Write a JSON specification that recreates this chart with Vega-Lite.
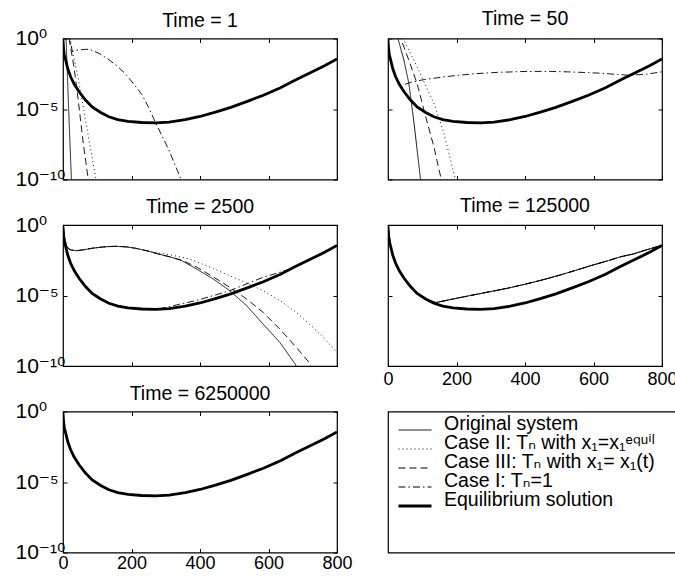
{
  "$schema": "https://vega.github.io/schema/vega-lite/v6.json",
  "padding": {"left": 14, "top": 7.5, "right": 0, "bottom": 0},
  "background": "white",
  "datasets": {
    "d": [
      {"p":0,"s":"equil","x":0,"y":0.794},{"p":0,"s":"equil","x":2,"y":0.158},{"p":0,"s":"equil","x":4,"y":0.0708},{"p":0,"s":"equil","x":8,"y":0.0282},{"p":0,"s":"equil","x":14,"y":0.00708},{"p":0,"s":"equil","x":22,"y":0.002},{"p":0,"s":"equil","x":33,"y":0.000562},{"p":0,"s":"equil","x":47,"y":0.000166},{"p":0,"s":"equil","x":65,"y":4.47e-5},{"p":0,"s":"equil","x":85,"y":1.41e-5},{"p":0,"s":"equil","x":110,"y":5.62e-6},{"p":0,"s":"equil","x":134,"y":2.82e-6},{"p":0,"s":"equil","x":160,"y":1.78e-6},{"p":0,"s":"equil","x":190,"y":1.32e-6},{"p":0,"s":"equil","x":230,"y":1.1e-6},{"p":0,"s":"equil","x":270,"y":1.05e-6},{"p":0,"s":"equil","x":310,"y":1.17e-6},{"p":0,"s":"equil","x":357,"y":1.74e-6},{"p":0,"s":"equil","x":400,"y":2.95e-6},{"p":0,"s":"equil","x":445,"y":6.03e-6},{"p":0,"s":"equil","x":490,"y":1.32e-5},{"p":0,"s":"equil","x":540,"y":3.63e-5},{"p":0,"s":"equil","x":585,"y":9.55e-5},{"p":0,"s":"equil","x":635,"y":0.000316},{"p":0,"s":"equil","x":680,"y":0.00117},{"p":0,"s":"equil","x":725,"y":0.00398},{"p":0,"s":"equil","x":765,"y":0.012},{"p":0,"s":"equil","x":800,"y":0.0355},

      {"p":1,"s":"orig","x":6,"y":3.16},{"p":1,"s":"orig","x":9,"y":1},{"p":1,"s":"orig","x":16.5,"y":1e-5},{"p":1,"s":"orig","x":24.5,"y":1e-10},{"p":1,"s":"orig","x":25.5,"y":4e-11},
      {"p":1,"s":"case3","x":13,"y":6.3},{"p":1,"s":"case3","x":17.5,"y":1},{"p":1,"s":"case3","x":32,"y":0.01},{"p":1,"s":"case3","x":44.5,"y":4.27e-5},{"p":1,"s":"case3","x":58,"y":6.3e-8},{"p":1,"s":"case3","x":73.7,"y":1e-10},{"p":1,"s":"case3","x":76,"y":4e-11},
      {"p":1,"s":"case2","x":15,"y":3.16},{"p":1,"s":"case2","x":20,"y":1},{"p":1,"s":"case2","x":27,"y":0.148},{"p":1,"s":"case2","x":41.6,"y":0.00331},{"p":1,"s":"case2","x":61,"y":8.32e-6},{"p":1,"s":"case2","x":77.7,"y":3.55e-8},{"p":1,"s":"case2","x":95,"y":1.58e-10},{"p":1,"s":"case2","x":99,"y":4e-11},
      {"p":1,"s":"case1","x":16,"y":3.16},{"p":1,"s":"case1","x":20,"y":1},{"p":1,"s":"case1","x":27,"y":0.126},{"p":1,"s":"case1","x":35,"y":0.138},{"p":1,"s":"case1","x":45,"y":0.158},{"p":1,"s":"case1","x":76,"y":0.174},{"p":1,"s":"case1","x":105,"y":0.089},{"p":1,"s":"case1","x":134,"y":0.0316},{"p":1,"s":"case1","x":160,"y":0.01},{"p":1,"s":"case1","x":182,"y":0.00316},{"p":1,"s":"case1","x":209,"y":0.000501},{"p":1,"s":"case1","x":231,"y":0.0001},{"p":1,"s":"case1","x":250,"y":1.26e-5},{"p":1,"s":"case1","x":270,"y":1.12e-6},{"p":1,"s":"case1","x":290,"y":1.12e-7},{"p":1,"s":"case1","x":309,"y":1.26e-8},{"p":1,"s":"case1","x":326,"y":1.26e-9},{"p":1,"s":"case1","x":345,"y":1e-10},{"p":1,"s":"case1","x":350,"y":5e-11},

      {"p":2,"s":"orig","x":22,"y":3.98},{"p":2,"s":"orig","x":29,"y":1},{"p":2,"s":"orig","x":46.6,"y":0.0288},{"p":2,"s":"orig","x":61,"y":0.000631},{"p":2,"s":"orig","x":76,"y":1e-6},{"p":2,"s":"orig","x":95,"y":1e-10},{"p":2,"s":"orig","x":97,"y":4e-11},
      {"p":2,"s":"case3","x":30,"y":2.51},{"p":2,"s":"case3","x":37,"y":1},{"p":2,"s":"case3","x":61,"y":0.0288},{"p":2,"s":"case3","x":85,"y":0.000631},{"p":2,"s":"case3","x":110,"y":2.82e-6},{"p":2,"s":"case3","x":134,"y":2.09e-8},{"p":2,"s":"case3","x":155.4,"y":1.05e-10},{"p":2,"s":"case3","x":158,"y":5e-11},
      {"p":2,"s":"case2","x":40,"y":2.0},{"p":2,"s":"case2","x":46.6,"y":0.759},{"p":2,"s":"case2","x":85,"y":0.01},{"p":2,"s":"case2","x":134,"y":2.51e-5},{"p":2,"s":"case2","x":163,"y":2.0e-7},{"p":2,"s":"case2","x":197,"y":1e-10},{"p":2,"s":"case2","x":200,"y":5e-11},
      {"p":2,"s":"case1","x":50,"y":0.000562},{"p":2,"s":"case1","x":67,"y":0.000794},{"p":2,"s":"case1","x":106,"y":0.00123},{"p":2,"s":"case1","x":170,"y":0.002},{"p":2,"s":"case1","x":251,"y":0.00316},{"p":2,"s":"case1","x":320,"y":0.00398},{"p":2,"s":"case1","x":397,"y":0.00457},{"p":2,"s":"case1","x":470,"y":0.00468},{"p":2,"s":"case1","x":543,"y":0.00417},{"p":2,"s":"case1","x":620,"y":0.00347},{"p":2,"s":"case1","x":698,"y":0.00251},{"p":2,"s":"case1","x":750,"y":0.00282},{"p":2,"s":"case1","x":800,"y":0.00437},

      {"p":3,"s":"orig","x":0,"y":0.891},{"p":3,"s":"orig","x":4,"y":0.126},{"p":3,"s":"orig","x":10,"y":0.0355},{"p":3,"s":"orig","x":16,"y":0.0209},{"p":3,"s":"orig","x":24,"y":0.0166},{"p":3,"s":"orig","x":40,"y":0.0151},{"p":3,"s":"orig","x":60,"y":0.0174},{"p":3,"s":"orig","x":85,"y":0.0224},{"p":3,"s":"orig","x":120,"y":0.0282},{"p":3,"s":"orig","x":153,"y":0.0309},{"p":3,"s":"orig","x":185,"y":0.0282},{"p":3,"s":"orig","x":212,"y":0.0224},{"p":3,"s":"orig","x":245,"y":0.0148},{"p":3,"s":"orig","x":279,"y":0.00871},{"p":3,"s":"orig","x":315,"y":0.00525},{"p":3,"s":"orig","x":347,"y":0.00295},{"p":3,"s":"orig","x":390,"y":0.000759},{"p":3,"s":"orig","x":440,"y":0.000141},{"p":3,"s":"orig","x":487,"y":2.19e-5},{"p":3,"s":"orig","x":536,"y":1.91e-6},{"p":3,"s":"orig","x":584,"y":9.55e-8},{"p":3,"s":"orig","x":633,"y":4.79e-9},{"p":3,"s":"orig","x":679,"y":1.26e-10},{"p":3,"s":"orig","x":685,"y":5e-11},
      {"p":3,"s":"case3","x":0,"y":0.891},{"p":3,"s":"case3","x":4,"y":0.126},{"p":3,"s":"case3","x":10,"y":0.0355},{"p":3,"s":"case3","x":16,"y":0.0209},{"p":3,"s":"case3","x":24,"y":0.0166},{"p":3,"s":"case3","x":40,"y":0.0151},{"p":3,"s":"case3","x":60,"y":0.0174},{"p":3,"s":"case3","x":85,"y":0.0224},{"p":3,"s":"case3","x":120,"y":0.0282},{"p":3,"s":"case3","x":153,"y":0.0309},{"p":3,"s":"case3","x":185,"y":0.0282},{"p":3,"s":"case3","x":212,"y":0.0224},{"p":3,"s":"case3","x":245,"y":0.0148},{"p":3,"s":"case3","x":279,"y":0.00871},{"p":3,"s":"case3","x":315,"y":0.00525},{"p":3,"s":"case3","x":347,"y":0.00316},{"p":3,"s":"case3","x":390,"y":0.00105},{"p":3,"s":"case3","x":440,"y":0.0002},{"p":3,"s":"case3","x":487,"y":3.8e-5},{"p":3,"s":"case3","x":536,"y":5.62e-6},{"p":3,"s":"case3","x":584,"y":6.46e-7},{"p":3,"s":"case3","x":633,"y":4.17e-8},{"p":3,"s":"case3","x":681,"y":2.14e-9},{"p":3,"s":"case3","x":720,"y":1.62e-10},{"p":3,"s":"case3","x":727,"y":5e-11},
      {"p":3,"s":"case2","x":0,"y":0.891},{"p":3,"s":"case2","x":4,"y":0.126},{"p":3,"s":"case2","x":10,"y":0.0355},{"p":3,"s":"case2","x":16,"y":0.0209},{"p":3,"s":"case2","x":24,"y":0.0166},{"p":3,"s":"case2","x":40,"y":0.0151},{"p":3,"s":"case2","x":60,"y":0.0174},{"p":3,"s":"case2","x":85,"y":0.0224},{"p":3,"s":"case2","x":120,"y":0.0282},{"p":3,"s":"case2","x":153,"y":0.0309},{"p":3,"s":"case2","x":185,"y":0.0282},{"p":3,"s":"case2","x":212,"y":0.0224},{"p":3,"s":"case2","x":245,"y":0.0148},{"p":3,"s":"case2","x":279,"y":0.0105},{"p":3,"s":"case2","x":320,"y":0.00708},{"p":3,"s":"case2","x":367,"y":0.00398},{"p":3,"s":"case2","x":390,"y":0.00251},{"p":3,"s":"case2","x":440,"y":0.000794},{"p":3,"s":"case2","x":487,"y":0.000251},{"p":3,"s":"case2","x":535,"y":7.94e-5},{"p":3,"s":"case2","x":584,"y":2.19e-5},{"p":3,"s":"case2","x":633,"y":4.47e-6},{"p":3,"s":"case2","x":681,"y":6.46e-7},{"p":3,"s":"case2","x":730,"y":5.5e-8},{"p":3,"s":"case2","x":765,"y":7.94e-9},{"p":3,"s":"case2","x":800,"y":8.91e-10},
      {"p":3,"s":"case1","x":0,"y":0.794},{"p":3,"s":"case1","x":8,"y":0.0282},{"p":3,"s":"case1","x":22,"y":0.002},{"p":3,"s":"case1","x":47,"y":0.000166},{"p":3,"s":"case1","x":85,"y":1.41e-5},{"p":3,"s":"case1","x":134,"y":2.82e-6},{"p":3,"s":"case1","x":190,"y":1.32e-6},{"p":3,"s":"case1","x":230,"y":1.1e-6},{"p":3,"s":"case1","x":270,"y":1.05e-6},{"p":3,"s":"case1","x":300,"y":1.41e-6},{"p":3,"s":"case1","x":340,"y":2.4e-6},{"p":3,"s":"case1","x":390,"y":4.47e-6},{"p":3,"s":"case1","x":440,"y":1e-5},{"p":3,"s":"case1","x":487,"y":2.19e-5},{"p":3,"s":"case1","x":536,"y":6.61e-5},{"p":3,"s":"case1","x":584,"y":0.000195},{"p":3,"s":"case1","x":623,"y":0.000372},{"p":3,"s":"case1","x":660,"y":0.000708},{"p":3,"s":"case1","x":680,"y":0.0012},{"p":3,"s":"case1","x":725,"y":0.00398},{"p":3,"s":"case1","x":765,"y":0.012},{"p":3,"s":"case1","x":800,"y":0.0355},

      {"p":4,"s":"orig","x":0,"y":0.794},{"p":4,"s":"orig","x":8,"y":0.0282},{"p":4,"s":"orig","x":22,"y":0.002},{"p":4,"s":"orig","x":47,"y":0.000166},{"p":4,"s":"orig","x":85,"y":1.41e-5},{"p":4,"s":"orig","x":110,"y":5.62e-6},{"p":4,"s":"orig","x":140,"y":3.16e-6},{"p":4,"s":"orig","x":200,"y":6.31e-6},{"p":4,"s":"orig","x":251,"y":1.12e-5},{"p":4,"s":"orig","x":300,"y":1.91e-5},{"p":4,"s":"orig","x":348,"y":3.24e-5},{"p":4,"s":"orig","x":400,"y":6.31e-5},{"p":4,"s":"orig","x":445,"y":0.000117},{"p":4,"s":"orig","x":495,"y":0.000251},{"p":4,"s":"orig","x":542,"y":0.00055},{"p":4,"s":"orig","x":590,"y":0.00126},{"p":4,"s":"orig","x":640,"y":0.00282},{"p":4,"s":"orig","x":680,"y":0.00562},{"p":4,"s":"orig","x":717,"y":0.00891},{"p":4,"s":"orig","x":760,"y":0.019},{"p":4,"s":"orig","x":800,"y":0.0363},
      {"p":4,"s":"case2","x":0,"y":0.794},{"p":4,"s":"case2","x":8,"y":0.0282},{"p":4,"s":"case2","x":22,"y":0.002},{"p":4,"s":"case2","x":47,"y":0.000166},{"p":4,"s":"case2","x":85,"y":1.41e-5},{"p":4,"s":"case2","x":110,"y":5.62e-6},{"p":4,"s":"case2","x":140,"y":3.16e-6},{"p":4,"s":"case2","x":200,"y":6.31e-6},{"p":4,"s":"case2","x":251,"y":1.12e-5},{"p":4,"s":"case2","x":300,"y":1.91e-5},{"p":4,"s":"case2","x":348,"y":3.24e-5},{"p":4,"s":"case2","x":400,"y":6.31e-5},{"p":4,"s":"case2","x":445,"y":0.000117},{"p":4,"s":"case2","x":495,"y":0.000251},{"p":4,"s":"case2","x":542,"y":0.00055},{"p":4,"s":"case2","x":590,"y":0.00126},{"p":4,"s":"case2","x":640,"y":0.00282},{"p":4,"s":"case2","x":680,"y":0.00562},{"p":4,"s":"case2","x":717,"y":0.00891},{"p":4,"s":"case2","x":760,"y":0.019},{"p":4,"s":"case2","x":800,"y":0.0363},
      {"p":4,"s":"case3","x":0,"y":0.794},{"p":4,"s":"case3","x":8,"y":0.0282},{"p":4,"s":"case3","x":22,"y":0.002},{"p":4,"s":"case3","x":47,"y":0.000166},{"p":4,"s":"case3","x":85,"y":1.41e-5},{"p":4,"s":"case3","x":110,"y":5.62e-6},{"p":4,"s":"case3","x":140,"y":3.16e-6},{"p":4,"s":"case3","x":200,"y":6.31e-6},{"p":4,"s":"case3","x":251,"y":1.12e-5},{"p":4,"s":"case3","x":300,"y":1.91e-5},{"p":4,"s":"case3","x":348,"y":3.24e-5},{"p":4,"s":"case3","x":400,"y":6.31e-5},{"p":4,"s":"case3","x":445,"y":0.000117},{"p":4,"s":"case3","x":495,"y":0.000251},{"p":4,"s":"case3","x":542,"y":0.00055},{"p":4,"s":"case3","x":590,"y":0.00126},{"p":4,"s":"case3","x":640,"y":0.00282},{"p":4,"s":"case3","x":680,"y":0.00562},{"p":4,"s":"case3","x":717,"y":0.00891},{"p":4,"s":"case3","x":760,"y":0.019},{"p":4,"s":"case3","x":800,"y":0.0363},
      {"p":4,"s":"case1","x":0,"y":0.794},{"p":4,"s":"case1","x":8,"y":0.0282},{"p":4,"s":"case1","x":22,"y":0.002},{"p":4,"s":"case1","x":47,"y":0.000166},{"p":4,"s":"case1","x":85,"y":1.41e-5},{"p":4,"s":"case1","x":110,"y":5.62e-6},{"p":4,"s":"case1","x":140,"y":3.16e-6},{"p":4,"s":"case1","x":200,"y":6.31e-6},{"p":4,"s":"case1","x":251,"y":1.12e-5},{"p":4,"s":"case1","x":300,"y":1.91e-5},{"p":4,"s":"case1","x":348,"y":3.24e-5},{"p":4,"s":"case1","x":400,"y":6.31e-5},{"p":4,"s":"case1","x":445,"y":0.000117},{"p":4,"s":"case1","x":495,"y":0.000251},{"p":4,"s":"case1","x":542,"y":0.00055},{"p":4,"s":"case1","x":590,"y":0.00126},{"p":4,"s":"case1","x":640,"y":0.00282},{"p":4,"s":"case1","x":680,"y":0.00562},{"p":4,"s":"case1","x":717,"y":0.00891},{"p":4,"s":"case1","x":760,"y":0.019},{"p":4,"s":"case1","x":800,"y":0.0363}
    ]
  },
  "columns": 2,
  "spacing": {"row": 45.5, "column": 51},
  "bounds": "flush",
  "align": "each",
  "concat": [
    {
      "width": 274, "height": 141, "title": {"text": "Time = 1", "offset": -3.5}, "data": {"name": "d"},
      "layer": [
        {"transform": [{"filter": "datum.p == 1"}],
         "mark": {"type": "line", "clip": true, "color": "black", "strokeWidth": 0.9},
         "encoding": {
           "x": {"field": "x", "type": "quantitative", "scale": {"domain": [0, 800], "nice": false, "zero": false}, "axis": {"orient": "bottom", "values": [0, 200, 400, 600, 800], "labels": false, "tickSize": -4, "title": null}},
           "y": {"field": "y", "type": "quantitative", "scale": {"type": "log", "domain": [1e-10, 1], "nice": false}, "axis": {"orient": "left", "values": [1e-10, 1e-5, 1], "labels": true, "labelExpr": "datum.value >= 0.5 ? '10⁰' : datum.value >= 1e-7 ? '10⁻⁵' : '10⁻¹⁰'", "labelFontSize": 21, "labelAlign": "left", "labelBaseline": "middle", "labelPadding": 52, "tickSize": -4, "title": null}},
           "strokeDash": {"field": "s", "type": "nominal", "scale": {"domain": ["orig", "case2", "case3", "case1", "equil"], "range": [[1, 0], [1, 3], [7, 4], [7, 3, 1.5, 3], [1, 0]]}, "legend": null}
         }},
        {"transform": [{"filter": "datum.s == 'equil'"}],
         "mark": {"type": "line", "clip": true, "color": "black", "strokeWidth": 2.8},
         "encoding": {
           "x": {"field": "x", "type": "quantitative", "axis": {"orient": "top", "values": [0, 200, 400, 600, 800], "labels": false, "tickSize": -4, "title": null}},
           "y": {"field": "y", "type": "quantitative", "axis": {"orient": "right", "values": [1e-10, 1e-5, 1], "labels": false, "tickSize": -4, "title": null}}
         }}
      ],
      "resolve": {"axis": {"x": "independent", "y": "independent"}}
    },
    {
      "width": 274, "height": 141, "title": {"text": "Time = 50", "offset": 8.5}, "data": {"name": "d"},
      "layer": [
        {"transform": [{"filter": "datum.p == 2"}],
         "mark": {"type": "line", "clip": true, "color": "black", "strokeWidth": 0.9},
         "encoding": {
           "x": {"field": "x", "type": "quantitative", "scale": {"domain": [0, 800], "nice": false, "zero": false}, "axis": {"orient": "bottom", "values": [0, 200, 400, 600, 800], "labels": false, "tickSize": -4, "title": null}},
           "y": {"field": "y", "type": "quantitative", "scale": {"type": "log", "domain": [1e-10, 1], "nice": false}, "axis": {"orient": "left", "values": [1e-10, 1e-5, 1], "labels": false, "tickSize": -4, "title": null}},
           "strokeDash": {"field": "s", "type": "nominal", "scale": {"domain": ["orig", "case2", "case3", "case1", "equil"], "range": [[1, 0], [1, 3], [7, 4], [7, 3, 1.5, 3], [1, 0]]}, "legend": null}
         }},
        {"transform": [{"filter": "datum.s == 'equil'"}],
         "mark": {"type": "line", "clip": true, "color": "black", "strokeWidth": 2.8},
         "encoding": {
           "x": {"field": "x", "type": "quantitative", "axis": {"orient": "top", "values": [0, 200, 400, 600, 800], "labels": false, "tickSize": -4, "title": null}},
           "y": {"field": "y", "type": "quantitative", "axis": {"orient": "right", "values": [1e-10, 1e-5, 1], "labels": false, "tickSize": -4, "title": null}}
         }}
      ],
      "resolve": {"axis": {"x": "independent", "y": "independent"}}
    },
    {
      "width": 274, "height": 141, "title": {"text": "Time = 2500", "offset": -3.5}, "data": {"name": "d"},
      "layer": [
        {"transform": [{"filter": "datum.p == 3"}],
         "mark": {"type": "line", "clip": true, "color": "black", "strokeWidth": 0.9},
         "encoding": {
           "x": {"field": "x", "type": "quantitative", "scale": {"domain": [0, 800], "nice": false, "zero": false}, "axis": {"orient": "bottom", "values": [0, 200, 400, 600, 800], "labels": false, "tickSize": -4, "title": null}},
           "y": {"field": "y", "type": "quantitative", "scale": {"type": "log", "domain": [1e-10, 1], "nice": false}, "axis": {"orient": "left", "values": [1e-10, 1e-5, 1], "labels": true, "labelExpr": "datum.value >= 0.5 ? '10⁰' : datum.value >= 1e-7 ? '10⁻⁵' : '10⁻¹⁰'", "labelFontSize": 21, "labelAlign": "left", "labelBaseline": "middle", "labelPadding": 52, "tickSize": -4, "title": null}},
           "strokeDash": {"field": "s", "type": "nominal", "scale": {"domain": ["orig", "case2", "case3", "case1", "equil"], "range": [[1, 0], [1, 3], [7, 4], [7, 3, 1.5, 3], [1, 0]]}, "legend": null}
         }},
        {"transform": [{"filter": "datum.s == 'equil'"}],
         "mark": {"type": "line", "clip": true, "color": "black", "strokeWidth": 2.8},
         "encoding": {
           "x": {"field": "x", "type": "quantitative", "axis": {"orient": "top", "values": [0, 200, 400, 600, 800], "labels": false, "tickSize": -4, "title": null}},
           "y": {"field": "y", "type": "quantitative", "axis": {"orient": "right", "values": [1e-10, 1e-5, 1], "labels": false, "tickSize": -4, "title": null}}
         }}
      ],
      "resolve": {"axis": {"x": "independent", "y": "independent"}}
    },
    {
      "width": 274, "height": 141, "title": {"text": "Time = 125000", "offset": 8.5}, "data": {"name": "d"},
      "layer": [
        {"transform": [{"filter": "datum.p == 4"}],
         "mark": {"type": "line", "clip": true, "color": "black", "strokeWidth": 0.9},
         "encoding": {
           "x": {"field": "x", "type": "quantitative", "scale": {"domain": [0, 800], "nice": false, "zero": false}, "axis": {"orient": "bottom", "values": [0, 200, 400, 600, 800], "labels": true, "labelFontSize": 18, "labelPadding": 8, "labelFlush": false, "tickSize": -4, "title": null}},
           "y": {"field": "y", "type": "quantitative", "scale": {"type": "log", "domain": [1e-10, 1], "nice": false}, "axis": {"orient": "left", "values": [1e-10, 1e-5, 1], "labels": false, "tickSize": -4, "title": null}},
           "strokeDash": {"field": "s", "type": "nominal", "scale": {"domain": ["orig", "case2", "case3", "case1", "equil"], "range": [[1, 0], [1, 3], [7, 4], [7, 3, 1.5, 3], [1, 0]]}, "legend": null}
         }},
        {"transform": [{"filter": "datum.s == 'equil'"}],
         "mark": {"type": "line", "clip": true, "color": "black", "strokeWidth": 2.8},
         "encoding": {
           "x": {"field": "x", "type": "quantitative", "axis": {"orient": "top", "values": [0, 200, 400, 600, 800], "labels": false, "tickSize": -4, "title": null}},
           "y": {"field": "y", "type": "quantitative", "axis": {"orient": "right", "values": [1e-10, 1e-5, 1], "labels": false, "tickSize": -4, "title": null}}
         }}
      ],
      "resolve": {"axis": {"x": "independent", "y": "independent"}}
    },
    {
      "width": 274, "height": 141, "title": {"text": "Time = 6250000", "offset": -3.5}, "data": {"name": "d"},
      "layer": [
        {"transform": [{"filter": "datum.p == 5"}],
         "mark": {"type": "line", "clip": true, "color": "black", "strokeWidth": 0.9},
         "encoding": {
           "x": {"field": "x", "type": "quantitative", "scale": {"domain": [0, 800], "nice": false, "zero": false}, "axis": {"orient": "bottom", "values": [0, 200, 400, 600, 800], "labels": true, "labelFontSize": 18, "labelPadding": 6, "labelFlush": false, "tickSize": -4, "title": null}},
           "y": {"field": "y", "type": "quantitative", "scale": {"type": "log", "domain": [1e-10, 1], "nice": false}, "axis": {"orient": "left", "values": [1e-10, 1e-5, 1], "labels": true, "labelExpr": "datum.value >= 0.5 ? '10⁰' : datum.value >= 1e-7 ? '10⁻⁵' : '10⁻¹⁰'", "labelFontSize": 21, "labelAlign": "left", "labelBaseline": "middle", "labelPadding": 52, "tickSize": -4, "title": null}},
           "strokeDash": {"field": "s", "type": "nominal", "scale": {"domain": ["orig", "case2", "case3", "case1", "equil"], "range": [[1, 0], [1, 3], [7, 4], [7, 3, 1.5, 3], [1, 0]]}, "legend": null}
         }},
        {"transform": [{"filter": "datum.s == 'equil'"}],
         "mark": {"type": "line", "clip": true, "color": "black", "strokeWidth": 2.8},
         "encoding": {
           "x": {"field": "x", "type": "quantitative", "axis": {"orient": "top", "values": [0, 200, 400, 600, 800], "labels": false, "tickSize": -4, "title": null}},
           "y": {"field": "y", "type": "quantitative", "axis": {"orient": "right", "values": [1e-10, 1e-5, 1], "labels": false, "tickSize": -4, "title": null}}
         }}
      ],
      "resolve": {"axis": {"x": "independent", "y": "independent"}}
    },
    {
      "width": 288, "height": 141,
      "data": {"values": []},
      "mark": {"type": "line", "color": "black"},
      "encoding": {
        "x": {"field": "x", "type": "quantitative", "scale": {"domain": [0, 1]}, "axis": null},
        "y": {"field": "y", "type": "quantitative", "scale": {"domain": [0, 1]}, "axis": null},
        "strokeDash": {"field": "s", "type": "nominal",
          "scale": {"domain": ["orig", "case2", "case3", "case1", "equil"], "range": [[1, 0], [1, 3], [7, 4], [7, 3, 1.5, 3], [1, 0]]},
          "legend": {"orient": "none", "legendX": 9, "legendY": 9, "title": null, "symbolType": "stroke", "symbolSize": 1089, "symbolStrokeColor": "black", "labelFontSize": 19.5, "labelOffset": 11, "labelLimit": 400, "labelBaseline": "alphabetic", "clipHeight": 19, "rowPadding": -7.6, "padding": 0,
            "labelExpr": "datum.value == 'orig' ? 'Original system' : datum.value == 'case2' ? 'Case II: Tₙ with x₁=x₁ᵉ𐞥ᵘⁱˡ' : datum.value == 'case3' ? 'Case III: Tₙ with x₁= x₁(t)' : datum.value == 'case1' ? 'Case I: Tₙ=1' : 'Equilibrium solution'"}},
        "strokeWidth": {"field": "s", "type": "nominal",
          "scale": {"type": "ordinal", "domain": ["orig", "case2", "case3", "case1", "equil"], "range": [1, 1, 1, 1, 2.8]},
          "legend": {"orient": "none", "legendX": 9, "legendY": 9, "title": null, "symbolType": "stroke", "symbolSize": 1089, "symbolStrokeColor": "black", "labelFontSize": 19.5, "labelOffset": 11, "labelLimit": 400, "labelBaseline": "alphabetic", "clipHeight": 19, "rowPadding": -7.6, "padding": 0,
            "labelExpr": "datum.value == 'orig' ? 'Original system' : datum.value == 'case2' ? 'Case II: Tₙ with x₁=x₁ᵉ𐞥ᵘⁱˡ' : datum.value == 'case3' ? 'Case III: Tₙ with x₁= x₁(t)' : datum.value == 'case1' ? 'Case I: Tₙ=1' : 'Equilibrium solution'"}}
      }
    }
  ],
  "resolve": {
    "scale": {"strokeDash": "independent", "strokeWidth": "independent"},
    "legend": {"strokeDash": "independent", "strokeWidth": "independent"}
  },
  "config": {
    "font": "Liberation Sans",
    "view": {"stroke": "black", "strokeWidth": 1.2},
    "axis": {"tickColor": "black", "labelColor": "black", "domain": false, "grid": false, "tickWidth": 1, "labelFont": "Liberation Sans, DejaVu Sans"},
    "title": {"font": "Liberation Sans", "fontSize": 19.5, "fontWeight": "normal", "color": "black", "baseline": "alphabetic"},
    "legend": {"labelColor": "black", "labelFont": "Liberation Sans, DejaVu Sans"}
  }
}
